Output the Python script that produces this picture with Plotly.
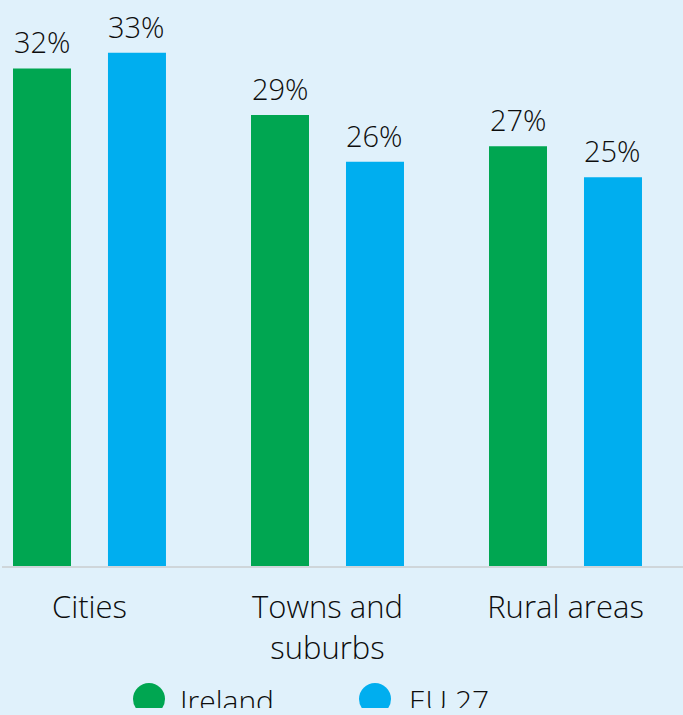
import plotly.graph_objects as go

# Share of population by degree of urbanisation
categories = ["Cities", "Towns and suburbs", "Rural areas"]
tick_labels = ["Cities", "Towns and<br>suburbs", "Rural areas"]
ireland = [32, 29, 27]
eu27 = [33, 26, 25]
series_names = ["Ireland", "EU 27"]

GREEN = "#00a651"
BLUE = "#00aeef"
BG = "#e0f1fb"
INK = "#0d0d0d"
FONT = "Open Sans"
WEIGHT = 300

BAR_W = 0.2437
OFFSETS = [-0.3214, 0.0777]

fig = go.Figure()
for name, vals, color, off in zip(series_names, [ireland, eu27], [GREEN, BLUE], OFFSETS):
    fig.add_trace(go.Bar(
        x=list(range(len(categories))), y=vals, name=name,
        marker=dict(color=color, line=dict(width=0)),
        width=BAR_W, offset=off, showlegend=False,
        hovertemplate="%{y}%<extra>" + name + "</extra>",
    ))

# value labels above each bar
annotations = []
for vals, off in zip([ireland, eu27], OFFSETS):
    for i, v in enumerate(vals):
        annotations.append(dict(
            x=i + off + BAR_W / 2, y=v, xref="x", yref="y",
            text=f"{v}%", showarrow=False, yanchor="bottom", yshift=5,
            font=dict(family=FONT, size=29, color=INK, weight=WEIGHT),
        ))

# legend: circle swatches with names below the axis
shapes = []
for name, color, cx, tx in zip(series_names, [GREEN, BLUE], [147, 373], [176, 405]):
    shapes.append(dict(
        type="circle", xref="paper", yref="paper",
        xsizemode="pixel", ysizemode="pixel", xanchor=0, yanchor=0,
        x0=cx - 16, x1=cx + 16, y0=-149, y1=-117,
        fillcolor=color, line=dict(width=0),
    ))
    annotations.append(dict(
        x=0, y=0, xref="paper", yref="paper", xshift=tx, yshift=-134,
        xanchor="left", yanchor="middle", showarrow=False, text=name,
        font=dict(family=FONT, size=30, color=INK, weight=WEIGHT),
    ))

fig.update_layout(
    width=683, height=708,
    margin=dict(l=2, r=0, t=0, b=142),
    paper_bgcolor=BG, plot_bgcolor=BG,
    barmode="overlay",
    showlegend=False,
    font=dict(family=FONT, size=30, color=INK, weight=WEIGHT),
    annotations=annotations,
    shapes=shapes,
    xaxis=dict(
        range=[-0.3676, 2.4937],
        tickmode="array", tickvals=list(range(len(categories))), ticktext=tick_labels,
        showgrid=False, zeroline=False,
        showline=True, linecolor="#cfd6da", linewidth=2,
        ticks="", ticklabelstandoff=13,
        tickfont=dict(family=FONT, size=31, color=INK, weight=WEIGHT),
        fixedrange=True,
    ),
    yaxis=dict(
        range=[0, 36.4], visible=False, showgrid=False, zeroline=False,
        fixedrange=True,
    ),
)

fig.write_html(
    "out.html",
    config={"displayModeBar": False},
    post_script="document.body.style.background='" + BG + "';document.body.style.margin='0';",
)
